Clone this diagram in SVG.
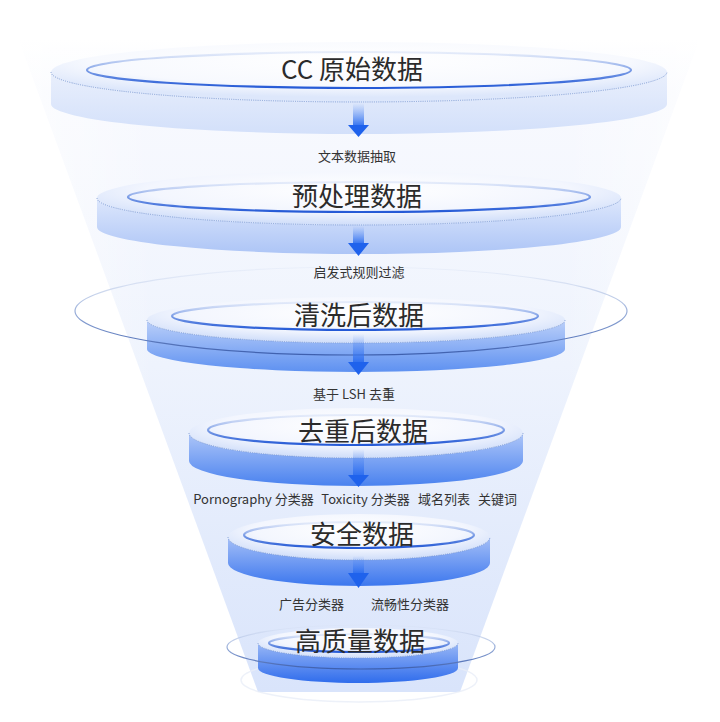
<svg xmlns="http://www.w3.org/2000/svg" width="720" height="722" viewBox="0 0 720 722">
<defs>
<style>
.title{font-family:"Noto Sans CJK SC","Noto Sans",sans-serif;font-size:26px;fill:#2b2b2b;text-anchor:middle;dominant-baseline:central}
.lbl{font-family:"Noto Sans CJK SC","Noto Sans",sans-serif;font-size:13px;fill:#333;text-anchor:middle;dominant-baseline:central}
.top{fill:url(#gTop)}
.ring{fill:none;stroke:url(#gRing);stroke-width:2.2}
.dot{fill:none;stroke:#7f9cd4;stroke-width:1;stroke-dasharray:1 1.2}
.orbit{fill:none;stroke:url(#gOrbit);stroke-width:1.2}
.shaft{fill:url(#gShaft)}
.head{fill:#1f62ec}
</style>
<linearGradient id="gFunnel" x1="0" y1="0" x2="0" y2="1">
<stop offset="0" stop-color="#f4f7fe" stop-opacity="0"/>
<stop offset="0.08" stop-color="#f6f8fe" stop-opacity="0.8"/>
<stop offset="0.5" stop-color="#eef3fd"/>
<stop offset="1" stop-color="#d9e4fb"/>
</linearGradient>
<linearGradient id="gFunnelH" x1="0" y1="0" x2="1" y2="0">
<stop offset="0" stop-color="#ffffff" stop-opacity="0.6"/>
<stop offset="0.2" stop-color="#ffffff" stop-opacity="0"/>
<stop offset="0.8" stop-color="#ffffff" stop-opacity="0"/>
<stop offset="1" stop-color="#ffffff" stop-opacity="0.6"/>
</linearGradient>
<radialGradient id="gTop" cx="0.5" cy="0.35" r="0.62">
<stop offset="0" stop-color="#ffffff"/>
<stop offset="0.65" stop-color="#f3f6fe"/>
<stop offset="1" stop-color="#d3e0fa"/>
</radialGradient>
<radialGradient id="gTop1" cx="0.5" cy="0.3" r="0.62">
<stop offset="0" stop-color="#ffffff"/>
<stop offset="0.7" stop-color="#f7f9fe"/>
<stop offset="1" stop-color="#dde7fb"/>
</radialGradient>
<linearGradient id="gRing" x1="0" y1="0" x2="0" y2="1">
<stop offset="0" stop-color="#c9d7f4" stop-opacity="0.4"/>
<stop offset="0.5" stop-color="#7d9ee6"/>
<stop offset="1" stop-color="#2459d6"/>
</linearGradient>
<linearGradient id="gOrbit" x1="0" y1="0" x2="0" y2="1">
<stop offset="0" stop-color="#d9e2f4" stop-opacity="0.3"/>
<stop offset="0.5" stop-color="#9bb0da"/>
<stop offset="1" stop-color="#3d5fae"/>
</linearGradient>
<linearGradient id="gS1" x1="0" y1="0" x2="0" y2="1">
<stop offset="0" stop-color="#e9effc"/><stop offset="1" stop-color="#d3e0fa"/>
</linearGradient>
<linearGradient id="gS2" x1="0" y1="0" x2="0" y2="1">
<stop offset="0" stop-color="#dde7fc"/><stop offset="1" stop-color="#adc5f6"/>
</linearGradient>
<linearGradient id="gS3" x1="0" y1="0" x2="0" y2="1">
<stop offset="0" stop-color="#bcd0f9"/><stop offset="1" stop-color="#5e91f1"/>
</linearGradient>
<linearGradient id="gS4" x1="0" y1="0" x2="0" y2="1">
<stop offset="0" stop-color="#aec6f8"/><stop offset="1" stop-color="#4a82ef"/>
</linearGradient>
<linearGradient id="gS5" x1="0" y1="0" x2="0" y2="1">
<stop offset="0" stop-color="#a5bff7"/><stop offset="1" stop-color="#3c77ee"/>
</linearGradient>
<linearGradient id="gS6" x1="0" y1="0" x2="0" y2="1">
<stop offset="0" stop-color="#9ab8f6"/><stop offset="1" stop-color="#2f6cec"/>
</linearGradient>
<linearGradient id="gShaft" x1="0" y1="0" x2="0" y2="1">
<stop offset="0" stop-color="#5b8ff3" stop-opacity="0"/>
<stop offset="1" stop-color="#2a6cf0" stop-opacity="0.95"/>
</linearGradient>
</defs>

<rect width="720" height="722" fill="#ffffff"/>
<polygon id="funnel" points="19,40 699,40 460,692 258,692" fill="url(#gFunnel)"/>
<polygon points="19,40 699,40 460,692 258,692" fill="url(#gFunnelH)"/>

<g id="disc1">
<path fill="url(#gS1)" d="M51,72 L51,104 A308,30 0 0 0 667,104 L667,72 A308,30 0 0 1 51,72 Z"/>
<ellipse fill="url(#gTop1)" cx="359" cy="72" rx="308" ry="30"/>
<path class="dot" d="M51,72 A308,30 0 0 0 667,72"/>
<ellipse class="ring" cx="359" cy="70" rx="272" ry="18"/>
<text class="title" x="352" y="67">CC 原始数据</text>
</g>

<g id="disc2">
<path fill="url(#gS2)" d="M97,198 L97,227 A262,27 0 0 0 621,227 L621,198 A262,27 0 0 1 97,198 Z"/>
<ellipse class="top" cx="359" cy="198" rx="262" ry="27"/>
<path class="dot" d="M97,198 A262,27 0 0 0 621,198"/>
<ellipse class="ring" cx="359" cy="197" rx="231" ry="15"/>
<text class="title" x="357" y="194">预处理数据</text>
</g>

<g id="disc3">
<path fill="url(#gS3)" d="M147,320 L147,349 A209,23 0 0 0 565,349 L565,320 A209,23 0 0 1 147,320 Z"/>
<ellipse class="top" cx="356" cy="320" rx="209" ry="23"/>
<path class="dot" d="M147,320 A209,23 0 0 0 565,320"/>
<ellipse class="ring" cx="355" cy="316" rx="183" ry="14"/>
<ellipse class="orbit" cx="351" cy="311" rx="276" ry="44"/>
<text class="title" x="359" y="313">清洗后数据</text>
</g>

<g id="disc4">
<path fill="url(#gS4)" d="M189,433 L189,461 A167,25 0 0 0 523,461 L523,433 A167,25 0 0 1 189,433 Z"/>
<ellipse class="top" cx="356" cy="433" rx="167" ry="25"/>
<path class="dot" d="M189,433 A167,25 0 0 0 523,433"/>
<ellipse class="ring" cx="356" cy="430" rx="148" ry="15"/>
<text class="title" x="363" y="429">去重后数据</text>
</g>

<g id="disc5">
<path fill="url(#gS5)" d="M228,537 L228,563 A131,23 0 0 0 490,563 L490,537 A131,23 0 0 1 228,537 Z"/>
<ellipse class="top" cx="359" cy="537" rx="131" ry="23"/>
<path class="dot" d="M228,537 A131,23 0 0 0 490,537"/>
<ellipse class="ring" cx="359" cy="535" rx="115" ry="13"/>
<text class="title" x="362" y="532">安全数据</text>
</g>

<g id="disc6">
<ellipse cx="359" cy="680" rx="118" ry="22" fill="none" stroke="#e8eef8" stroke-width="1.5" opacity="0.8"/>
<path fill="url(#gS6)" d="M258,643 L258,668 A100,15 0 0 0 458,668 L458,643 A100,15 0 0 1 258,643 Z"/>
<ellipse class="top" cx="358" cy="643" rx="100" ry="15"/>
<path class="dot" d="M258,643 A100,15 0 0 0 458,643"/>
<ellipse class="ring" cx="359" cy="643" rx="90" ry="9"/>
<ellipse class="orbit" cx="361" cy="647" rx="134" ry="22"/>
<text class="title" x="360" y="639">高质量数据</text>
</g>

<g id="connectors">
<rect class="shaft" x="353" y="103" width="11" height="23"/>
<polygon class="head" points="348,125 369,125 358.5,137"/>
<rect class="shaft" x="353" y="226" width="11" height="18"/>
<polygon class="head" points="348,243 369,243 358.5,256"/>
<rect class="shaft" x="353" y="334" width="11" height="29"/>
<polygon class="head" points="348,362 369,362 358.5,375"/>
<rect class="shaft" x="353" y="449" width="11" height="27"/>
<polygon class="head" points="348,475 369,475 358.5,487"/>
<rect class="shaft" x="353" y="556" width="11" height="18"/>
<polygon class="head" points="348,573 369,573 358.5,588"/>
</g>

<g id="labels">
<text class="lbl" x="357" y="155">文本数据抽取</text>
<text class="lbl" x="359" y="271">启发式规则过滤</text>
<text class="lbl" x="354" y="393">基于 LSH 去重</text>
<text class="lbl" x="253.5" y="498">Pornography 分类器</text>
<text class="lbl" x="365.5" y="498">Toxicity 分类器</text>
<text class="lbl" x="444" y="498">域名列表</text>
<text class="lbl" x="497.5" y="498">关键词</text>
<text class="lbl" x="311.5" y="603">广告分类器</text>
<text class="lbl" x="410" y="603">流畅性分类器</text>
</g>
</svg>
